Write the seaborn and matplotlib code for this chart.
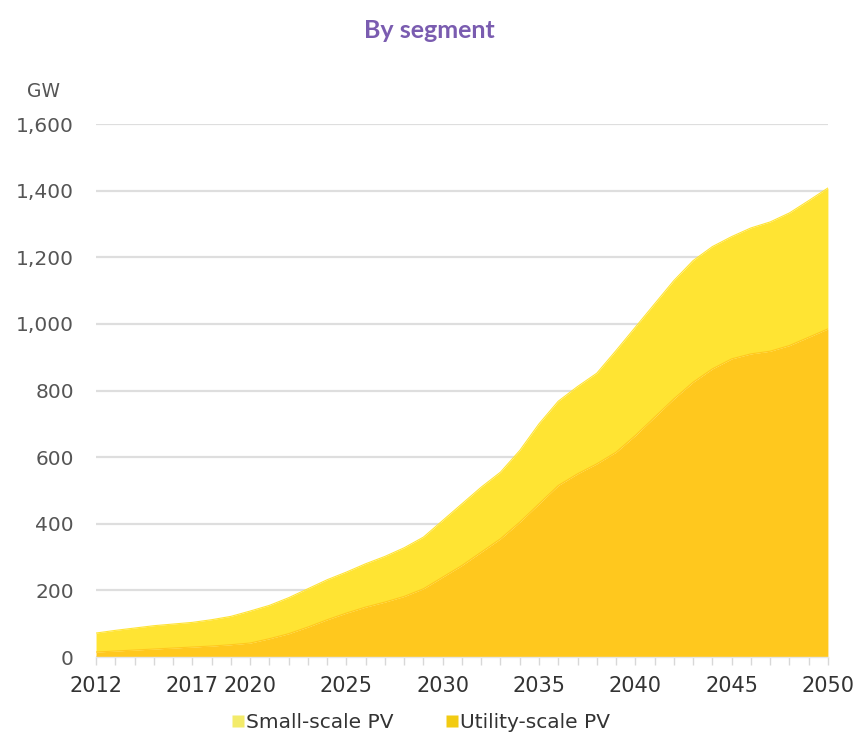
import matplotlib
matplotlib.use("Agg")
import matplotlib.pyplot as plt
from matplotlib.lines import Line2D
from matplotlib.ticker import FixedLocator, MultipleLocator, FuncFormatter
import seaborn as sns
import pandas as pd

# Installed solar PV capacity by segment, GW
years = list(range(2012, 2051))
utility_scale = [15, 18, 21, 24, 27, 30, 33, 37, 42, 55,
                 70, 90, 112, 132, 150, 165, 182, 205, 240, 275,
                 315, 355, 405, 460, 515, 550, 580, 615, 665, 720,
                 775, 825, 865, 895, 910, 918, 935, 960, 985]
small_scale = [57, 62, 66, 70, 72, 74, 79, 85, 96, 100,
               108, 115, 120, 123, 130, 137, 146, 155, 170, 185,
               195, 200, 215, 240, 253, 262, 272, 305, 325, 340,
               355, 365, 367, 367, 378, 388, 398, 410, 423]
series_names = ["Small-scale PV", "Utility-scale PV"]
x_tick_labels = [2012, 2017, 2020, 2025, 2030, 2035, 2040, 2045, 2050]
y_ticks = [0, 200, 400, 600, 800, 1000, 1200, 1400, 1600]

df = pd.DataFrame({"year": years, "utility": utility_scale, "small": small_scale})
df["total"] = df["utility"] + df["small"]

sns.set_theme(style="white")
plt.rcParams["font.family"] = ["DejaVu Sans"]

col_small = "#FFE433"
col_util = "#FFC81E"
text_col = "#333333"

fig = plt.figure(figsize=(8.59, 7.36), dpi=100)
ax = fig.add_axes([0.1118, 0.1073, 0.852, 0.7242])

# Stacked areas: utility at the bottom, small-scale on top
ax.fill_between(df["year"], 0, df["utility"], color=col_util, linewidth=0, zorder=3)
ax.fill_between(df["year"], df["utility"], df["total"], color=col_small, linewidth=0, zorder=3)
sns.lineplot(data=df, x="year", y="total", ax=ax, color=col_small, linewidth=0.8, zorder=4)
sns.lineplot(data=df, x="year", y="utility", ax=ax, color=col_util, linewidth=0.8, zorder=4)

ax.set_xlim(2012, 2050)
ax.set_ylim(0, 1600)
ax.set_xlabel("")
ax.set_ylabel("")

ax.yaxis.set_major_locator(FixedLocator(y_ticks))
ax.yaxis.set_major_formatter(FuncFormatter(lambda v, p: f"{int(v):,}"))
ax.xaxis.set_major_locator(FixedLocator(x_tick_labels))
ax.xaxis.set_minor_locator(MultipleLocator(1))

ax.grid(axis="y", color="#DEDEDE", linewidth=1.6, zorder=0)
ax.grid(axis="x", visible=False)
for side in ["top", "right", "left"]:
    ax.spines[side].set_visible(False)
ax.spines["bottom"].set_color("#E6E6E6")
ax.spines["bottom"].set_linewidth(1.0)
ax.spines["bottom"].set_zorder(5)

ax.tick_params(axis="x", which="both", direction="out", length=6, width=1,
               color="#D8D8D8", bottom=True)
ax.tick_params(axis="x", which="major", labelsize=15, labelcolor=text_col, pad=8)
ax.tick_params(axis="y", which="both", length=0, labelsize=14.5, labelcolor="#555555", pad=16)

fig.text(0.051, 0.876, "GW", fontsize=13.5, color="#555555", ha="center", va="center")
fig.text(0.5, 0.958, "By segment", fontsize=18, fontweight="bold", color="#7A5CB0",
         ha="center", va="center", family=["Lato", "DejaVu Sans"])

handles = [
    Line2D([], [], marker="s", linestyle="none", markersize=8,
           markerfacecolor="#F3EB6A", markeredgecolor="none"),
    Line2D([], [], marker="s", linestyle="none", markersize=8,
           markerfacecolor="#F2CB12", markeredgecolor="none"),
]
leg = fig.legend(handles, series_names, loc="center", bbox_to_anchor=(0.49, 0.018),
                 ncol=2, frameon=False, fontsize=14.5, handlelength=0.6,
                 handletextpad=0.1, columnspacing=2.6, borderpad=0)
for t in leg.get_texts():
    t.set_color(text_col)

fig.savefig("out.png", dpi=100, facecolor="white")
